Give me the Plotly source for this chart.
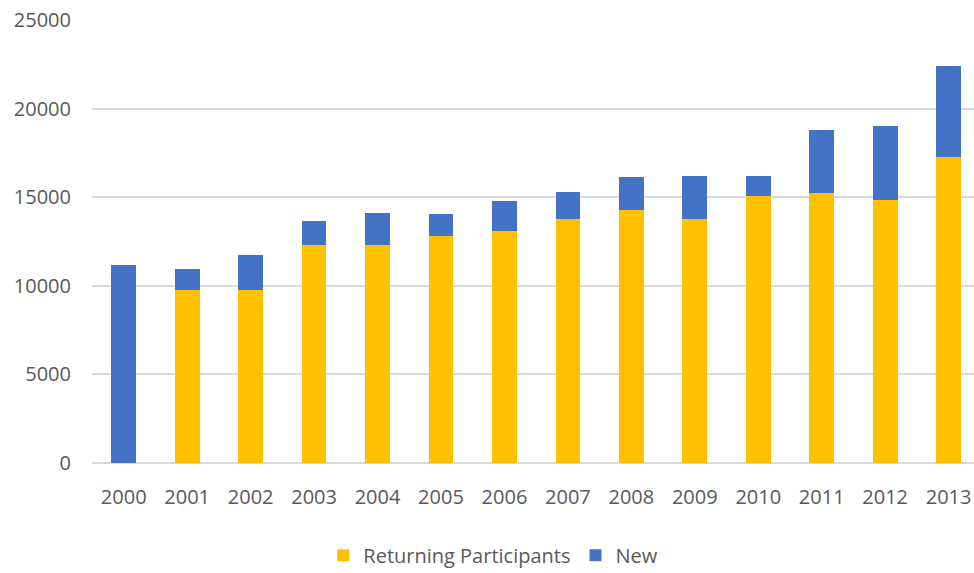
import plotly.graph_objects as go

years = ["2000", "2001", "2002", "2003", "2004", "2005", "2006",
         "2007", "2008", "2009", "2010", "2011", "2012", "2013"]
returning = [0, 9780, 9750, 12280, 12320, 12830, 13110,
             13750, 14260, 13750, 15070, 15260, 14860, 17270]
new = [11160, 1150, 1970, 1390, 1770, 1210, 1690,
       1540, 1900, 2460, 1140, 3550, 4180, 5120]

FONT = "Open Sans, Noto Sans, sans-serif"
GREY = "#595959"

fig = go.Figure()
fig.add_trace(go.Bar(x=years, y=returning, name="Returning Participants",
                     marker=dict(color="#FFC000", line=dict(width=0))))
fig.add_trace(go.Bar(x=years, y=new, name="New",
                     marker=dict(color="#4472C4", line=dict(width=0))))

fig.update_layout(
    width=974, height=573,
    margin=dict(l=92, r=0, t=20, b=110, autoexpand=False),
    barmode="stack",
    bargap=0.61,
    plot_bgcolor="white",
    paper_bgcolor="white",
    font=dict(family=FONT, size=20, color=GREY),
    legend=dict(orientation="h", x=0.455, xanchor="center",
                y=-0.208, yanchor="middle",
                font=dict(size=20, color=GREY),
                traceorder="normal", itemwidth=30),
    xaxis=dict(range=[-0.5, 13.4], showgrid=False, showline=False,
               ticks="", ticklabelstandoff=20, automargin=False,
               tickfont=dict(size=20, color=GREY)),
    yaxis=dict(range=[0, 25000], dtick=5000, tickformat="d",
               showgrid=True, automargin=False,
               gridcolor="#D9D9D9", gridwidth=1.5, zeroline=True,
               zerolinecolor="#D9D9D9", zerolinewidth=2, showline=False,
               ticks="", ticklabelstandoff=20,
               tickfont=dict(size=20, color=GREY)),
)

fig.write_html("out.html")
